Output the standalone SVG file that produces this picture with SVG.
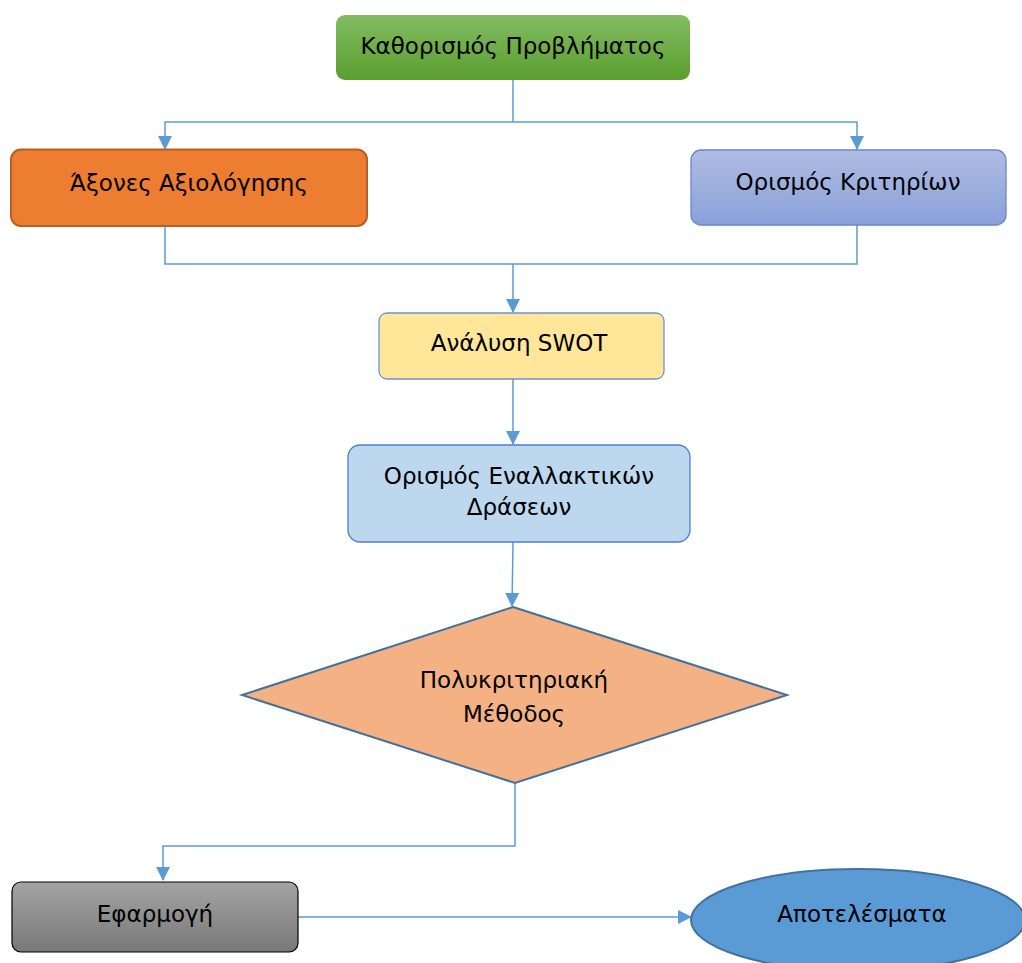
<svg xmlns="http://www.w3.org/2000/svg" width="1022" height="963" viewBox="0 0 1022 963">
  <style>
    .lbl { font-family: "DejaVu Sans", "Noto Sans", sans-serif; font-size: 23px; fill: #000; text-anchor: middle; dominant-baseline: central; }
    .wire { fill: none; stroke: #5b9bd5; stroke-width: 1.5; }
  </style>
  <defs>
    <linearGradient id="gGreen" x1="0" y1="0" x2="0" y2="1">
      <stop offset="0" stop-color="#82bc61"/>
      <stop offset="1" stop-color="#5b9e2f"/>
    </linearGradient>
    <linearGradient id="gLav" x1="0" y1="0" x2="0" y2="1">
      <stop offset="0" stop-color="#aebde3"/>
      <stop offset="1" stop-color="#8aa0d8"/>
    </linearGradient>
    <linearGradient id="gGray" x1="0" y1="0" x2="0" y2="1">
      <stop offset="0" stop-color="#a4a4a4"/>
      <stop offset="1" stop-color="#787878"/>
    </linearGradient>
    <marker id="arrow" markerWidth="14" markerHeight="14" refX="13" refY="7" orient="auto" markerUnits="userSpaceOnUse" viewBox="0 0 14 14">
      <path d="M0,0 L14,7 L0,14 Z" fill="#5b9bd5"/>
    </marker>
  </defs>

  <g id="connectors">
    <!-- split from the problem box to the two branches -->
    <path class="wire" d="M513,80 V122"/>
    <path class="wire" d="M513,122 H165 V149" marker-end="url(#arrow)"/>
    <path class="wire" d="M513,122 H857 V149" marker-end="url(#arrow)"/>
    <!-- branches join and feed SWOT -->
    <path class="wire" d="M165,226 V264 H857 V225"/>
    <path class="wire" d="M513,264 V312" marker-end="url(#arrow)"/>
    <path class="wire" d="M513,379 V444" marker-end="url(#arrow)"/>
    <path class="wire" d="M513,542 L512,606" marker-end="url(#arrow)"/>
    <!-- diamond to application -->
    <path class="wire" d="M515,783 V846 H163 V880" marker-end="url(#arrow)"/>
    <path class="wire" d="M298,917 H691" marker-end="url(#arrow)"/>
  </g>

  <g id="node-problem">
    <rect x="336" y="15" width="354" height="65" rx="9" fill="url(#gGreen)"/>
    <text class="lbl" x="513" y="46">Καθορισμός Προβλήματος</text>
  </g>

  <g id="node-axes">
    <rect x="11" y="149.5" width="356" height="76.5" rx="10" fill="#ed7d31" stroke="#b45f23" stroke-width="2"/>
    <text class="lbl" x="189" y="183">Άξονες Αξιολόγησης</text>
  </g>

  <g id="node-criteria">
    <rect x="691" y="150" width="315" height="75" rx="10" fill="url(#gLav)" stroke="#6787d0" stroke-width="1.3"/>
    <text class="lbl" x="848" y="182">Ορισμός Κριτηρίων</text>
  </g>

  <g id="node-swot">
    <rect x="379" y="313" width="285" height="66" rx="8" fill="#ffe699" stroke="#6b93d6" stroke-width="1.3"/>
    <text class="lbl" x="519" y="343">Ανάλυση SWOT</text>
  </g>

  <g id="node-alternatives">
    <rect x="348" y="445" width="342" height="97" rx="12" fill="#bdd7ee" stroke="#4f7fcf" stroke-width="1.3"/>
    <text class="lbl" x="519" y="476">Ορισμός Εναλλακτικών</text>
    <text class="lbl" x="519" y="507">Δράσεων</text>
  </g>

  <g id="node-method">
    <polygon points="513,607 787,695 515,783 242,695" fill="#f4b183" stroke="#41719c" stroke-width="2"/>
    <text class="lbl" x="514" y="680">Πολυκριτηριακή</text>
    <text class="lbl" x="514" y="714">Μέθοδος</text>
  </g>

  <g id="node-application">
    <rect x="12" y="882" width="286" height="70" rx="9" fill="url(#gGray)" stroke="#000" stroke-width="1.2"/>
    <text class="lbl" x="155" y="914">Εφαρμογή</text>
  </g>

  <g id="node-results">
    <ellipse cx="858" cy="920" rx="167" ry="51" fill="#5b9bd5" stroke="#41719c" stroke-width="2"/>
    <text class="lbl" x="862" y="914">Αποτελέσματα</text>
  </g>
</svg>
